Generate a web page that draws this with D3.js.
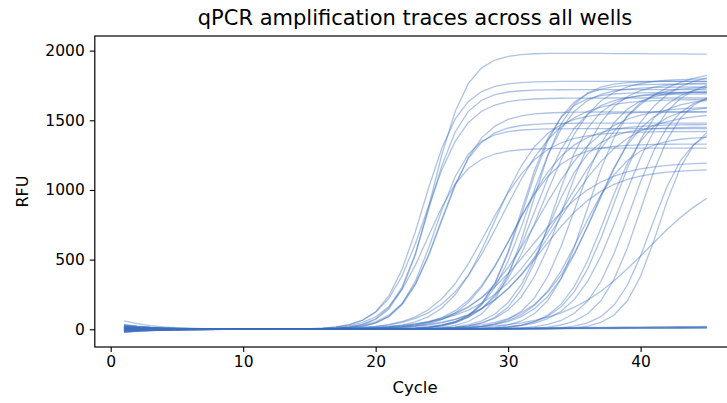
<!DOCTYPE html>
<html>
<head>
<meta charset="utf-8">
<script src="https://cdn.jsdelivr.net/npm/d3@7"></script>
<style>
  body { margin: 0; background: #fff; }
  text { font-family: "DejaVu Sans", sans-serif; fill: #000; }
</style>
</head>
<body>
<script>
// Width and height of the figure
var width = 727;
var height = 403;

// cycles read along the x axis
var cycles = d3.range(1, 46);

// per-well curve parameters
// ct = cycle at half height, plateau = top RFU, spread = steepness (cycles), start = offset at cycle 1
var wellCt =      [24.3, 23.6, 24.0, 23.8, 24.8, 24.5, 23.9, 25.0,
                   29.6, 30.2, 30.6, 31.0, 31.2, 31.5, 31.8, 32.0, 32.3, 32.6,
                   33.0, 33.4, 33.8, 34.2, 34.6, 35.0, 35.5, 36.0, 36.4, 36.9,
                   37.3, 37.9, 38.6, 39.2, 40.0, 40.8, 41.4, 31.8, 32.6, 40.5,
                   28.4, 29.0,
                   60, 60, 60, 60, 60, 60];
var wellPlateau = [1990, 1780, 1720, 1660, 1480, 1440, 1300, 1560,
                   1650, 1330, 1470, 1700, 1760, 1740, 1780, 1690, 1600, 1800,
                   1450, 1700, 1555, 1770, 1880, 1710, 1385, 1740, 1660, 1850,
                   1600, 1760, 1800, 1700, 1720, 1460, 1500, 1200, 1150, 1150,
                   1420, 1560,
                   0, 0, 0, 0, 0, 0];
var wellSpread =  [1.3, 1.4, 1.3, 1.5, 1.4, 1.3, 1.5, 1.5,
                   2.2, 1.8, 2.0, 1.4, 1.5, 1.6, 1.4, 1.7, 2.4, 1.9,
                   1.6, 1.5, 2.6, 1.7, 3.0, 1.6, 1.8, 1.5, 1.9, 2.2,
                   1.6, 1.7, 1.8, 1.6, 1.5, 1.4, 1.3, 2.6, 2.4, 3.0,
                   2.0, 1.8,
                   1, 1, 1, 1, 1, 1];
var wellStart =   [10, -15, 5, 20, -20, 0, 15, -10,
                   25, -5, 10, 30, -18, 5, 60, 0, 12, -12,
                   8, 20, -8, 2, 35, -20, 15, 5, -10, 25,
                   0, 10, -15, 30, 5, -5, 18, 12, -8, 0,
                   -6, 14,
                   -10, 5, 20, -22, 10, 0];
var wellEnd =     [-15, 0, 0, 0, 0, 0, 0, 0,
                   0, 0, 0, 0, 0, 0, 0, 0, 0, 0,
                   0, 0, 0, 0, 0, 0, 0, 0, 0, 0,
                   0, 0, 0, 0, 0, 0, 0, 0, 0, 0,
                   0, 0,
                   12, 18, 8, 20, 15, 10];

var xTicks = [0, 10, 20, 30, 40];
var yTicks = [0, 500, 1000, 1500, 2000];

// build one trace per well
var wells = wellCt.map(function(ct, i) {
	return cycles.map(function(c) {
		var s = 1 / (1 + Math.exp(-(c - ct) / wellSpread[i]));
		var base = wellStart[i] * Math.exp(-(c - 1) / 2.5);
		var late = wellEnd[i] * Math.max(0, (c - 20) / 25);
		return [c, base + wellPlateau[i] * s + late * (wellPlateau[i] ? s : 1)];
	});
});

var margin = {left: 94.8, top: 36, right: 736, bottom: 347};

var x = d3.scaleLinear().domain([-1.2, 47.2]).range([margin.left, margin.right]);
var y = d3.scaleLinear().domain([-127, 2105]).range([margin.bottom, margin.top]);

var svg = d3.select("body")
			.append("svg")
			.attr("width", width)
			.attr("height", height);

var line = d3.line()
			 .x(function(d) { return x(d[0]); })
			 .y(function(d) { return y(d[1]); });

svg.append("g")
	.selectAll("path")
	.data(wells)
	.enter()
	.append("path")
	.attr("d", line)
	.style("fill", "none")
	.style("stroke", "rgb(62,112,190)")
	.style("stroke-width", 1.3)
	.style("opacity", 0.42);

// frame
svg.append("rect")
	.attr("x", margin.left)
	.attr("y", margin.top)
	.attr("width", margin.right - margin.left)
	.attr("height", margin.bottom - margin.top)
	.style("fill", "none")
	.style("stroke", "#000")
	.style("stroke-width", 1.2);

// axes
var xAxis = svg.append("g")
	.attr("transform", "translate(0," + margin.bottom + ")")
	.call(d3.axisBottom(x).tickValues(xTicks).tickFormat(d3.format("d")).tickSize(5).tickPadding(4));
var yAxis = svg.append("g")
	.attr("transform", "translate(" + margin.left + ",0)")
	.call(d3.axisLeft(y).tickValues(yTicks).tickFormat(d3.format("d")).tickSize(5).tickPadding(5));

[xAxis, yAxis].forEach(function(a) {
	a.select(".domain").remove();
	a.selectAll("line").style("stroke", "#000").style("stroke-width", 1.1);
	a.selectAll("text").style("font-size", "15.5px").style("font-family", "DejaVu Sans, sans-serif");
});

svg.append("text")
	.attr("x", 415)
	.attr("y", 25)
	.attr("text-anchor", "middle")
	.style("font-size", "21px")
	.text("qPCR amplification traces across all wells");

svg.append("text")
	.attr("x", 415)
	.attr("y", 393)
	.attr("text-anchor", "middle")
	.style("font-size", "16.5px")
	.text("Cycle");

svg.append("text")
	.attr("transform", "translate(28," + ((margin.top + margin.bottom) / 2) + ") rotate(-90)")
	.attr("text-anchor", "middle")
	.style("font-size", "16px")
	.text("RFU");
</script>
</body>
</html>
